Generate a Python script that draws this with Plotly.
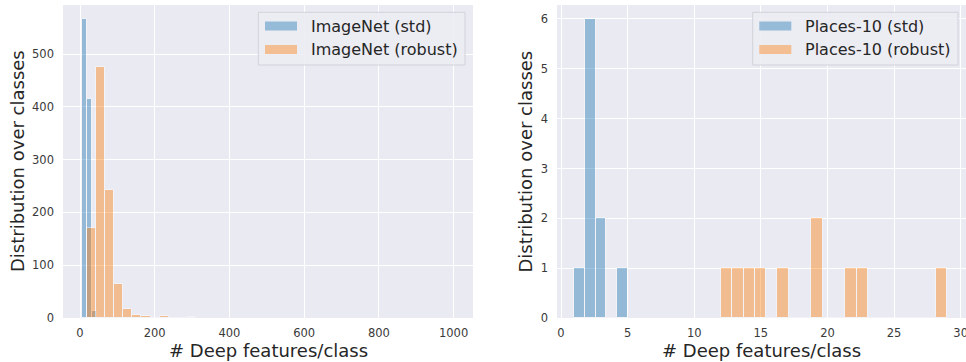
import plotly.graph_objects as go

# ---------------- data ----------------
# ImageNet histograms (bin left edge, bin width, counts)
imnet_std_start = 4.5
imnet_std_width = 13.6
imnet_std_counts = [566, 415, 13]

imnet_rob_start = 18.0
imnet_rob_width = 24.4
imnet_rob_counts = [170, 476, 242, 65, 18, 5, 3, 0, 3, 0, 0, 2]

# Places-10 histograms
places_std_start = 1.0
places_std_width = 0.8
places_std_counts = [1, 6, 2, 0, 1]

places_rob_start = 12.0
places_rob_width = 0.85
places_rob_counts = [1, 1, 1, 1, 0, 1, 0, 0, 2, 0, 0, 1, 1, 0, 0, 0, 0, 0, 0, 1]

left_labels = ["ImageNet (std)", "ImageNet (robust)"]
right_labels = ["Places-10 (std)", "Places-10 (robust)"]
x_title = "# Deep features/class"
y_title = "Distribution over classes"

# ---------------- style ----------------
W, H = 966, 362
BLUE = "#1f77b4"
ORANGE = "#ff7f0e"
ALPHA = 0.42
BG = "#EAEAF2"
FONT = "DejaVu Sans"
TXT = "#262626"


def edges(start, width, n):
    return [start + i * width for i in range(n)]


def px_x(p):
    return p / W


def px_y(p):
    return 1 - p / H


fig = go.Figure()


def add_hist(start, width, counts, color, xa, ya, name):
    fig.add_trace(go.Bar(
        x=edges(start, width, len(counts)), y=counts, width=width, offset=0,
        marker=dict(color=color, line=dict(color="white", width=1)),
        opacity=ALPHA, xaxis=xa, yaxis=ya, name=name, showlegend=False,
    ))


add_hist(imnet_std_start, imnet_std_width, imnet_std_counts, BLUE, "x", "y", left_labels[0])
add_hist(imnet_rob_start, imnet_rob_width, imnet_rob_counts, ORANGE, "x", "y", left_labels[1])
add_hist(places_std_start, places_std_width, places_std_counts, BLUE, "x2", "y2", right_labels[0])
add_hist(places_rob_start, places_rob_width, places_rob_counts, ORANGE, "x2", "y2", right_labels[1])

ydom = [px_y(318), px_y(5)]
axis_common = dict(
    showgrid=True, gridcolor="white", gridwidth=1.2, zeroline=False, automargin=False,
    showline=False, ticks="", ticklabeloverflow="allow",
    tickfont=dict(family=FONT, size=11.5, color="#3a3a3a"),
)

fig.update_layout(
    width=W, height=H, margin=dict(l=0, r=0, t=0, b=0),
    paper_bgcolor="white", plot_bgcolor=BG, barmode="overlay", bargap=0,
    font=dict(family=FONT, color=TXT),
    xaxis=dict(domain=[px_x(63), px_x(473)], range=[-45.5, 1052], anchor="y",
               tickvals=[0, 200, 400, 600, 800, 1000], ticklabelstandoff=6, **axis_common),
    yaxis=dict(domain=ydom, range=[0, 593], anchor="x",
               tickvals=[0, 100, 200, 300, 400, 500], ticklabelstandoff=8, **axis_common),
    xaxis2=dict(domain=[px_x(557), 1.0], range=[-0.3, 30.4], anchor="y2",
                tickvals=[0, 5, 10, 15, 20, 25, 30], ticklabelstandoff=6, **axis_common),
    yaxis2=dict(domain=ydom, range=[0, 6.28], anchor="x2",
                tickvals=[0, 1, 2, 3, 4, 5, 6], ticklabelstandoff=8, **axis_common),
)

shapes = []
annotations = []

# axis titles
for cx, cy in [(268, 350), (761.5, 350)]:
    annotations.append(dict(text=x_title, x=px_x(cx), y=px_y(cy), xref="paper", yref="paper",
                            xanchor="center", yanchor="middle", showarrow=False,
                            font=dict(family=FONT, size=18, color=TXT)))
for cx in [17.5, 525]:
    annotations.append(dict(text=y_title, x=px_x(cx), y=px_y(161.5), xref="paper", yref="paper",
                            xanchor="center", yanchor="middle", showarrow=False, textangle=-90,
                            font=dict(family=FONT, size=18, color=TXT)))


def legend(box_x0, box_x1, patch_x0, text_x, labels):
    shapes.append(dict(type="rect", xref="paper", yref="paper",
                       x0=px_x(box_x0), x1=px_x(box_x1), y0=px_y(65), y1=px_y(12.3),
                       fillcolor="rgba(236,236,243,0.9)", line=dict(color="#d2d2da", width=1)))
    for i, (lab, col) in enumerate(zip(labels, [BLUE, ORANGE])):
        cy = 26 + 23.5 * i
        shapes.append(dict(type="rect", xref="paper", yref="paper",
                           x0=px_x(patch_x0), x1=px_x(patch_x0 + 32),
                           y0=px_y(cy + 4.5), y1=px_y(cy - 4.5),
                           fillcolor=col, opacity=ALPHA, line=dict(width=0)))
        annotations.append(dict(text=lab, x=px_x(text_x), y=px_y(cy), xref="paper", yref="paper",
                                xanchor="left", yanchor="middle", showarrow=False,
                                font=dict(family=FONT, size=16, color=TXT)))


legend(258.3, 465, 265, 309, left_labels)
legend(752.7, 958, 759.3, 803, right_labels)

fig.update_layout(shapes=shapes, annotations=annotations)
fig.write_html("out.html")
